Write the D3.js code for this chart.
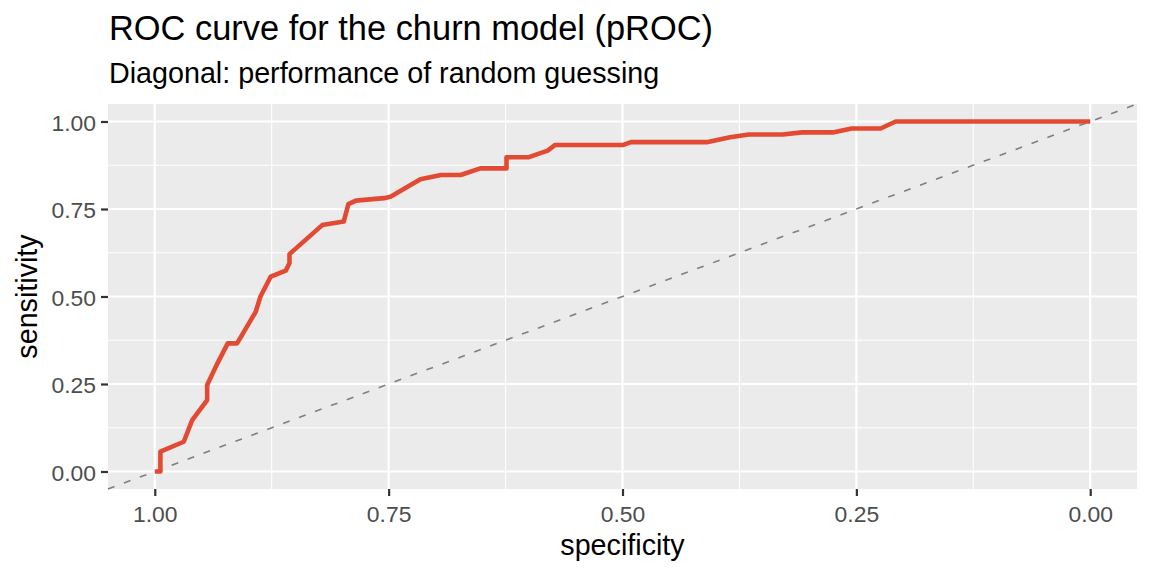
<!DOCTYPE html>
<html>
<head>
<meta charset="utf-8">
<script src="https://cdn.jsdelivr.net/npm/d3@7"></script>
<style>
    body { margin: 0; background: #fff; }
    text { font-family: "Liberation Sans", Arial, sans-serif; }
</style>
</head>
<body>
<svg id="graph" width="1152" height="576"></svg>
<script>

//roc curve points (specificity goes 1 -> 0)
let specificity = [1, 0.994, 0.994, 0.969, 0.960, 0.944, 0.944, 0.933, 0.922, 0.912, 0.892, 0.887, 0.876, 0.860, 0.856, 0.856,
    0.821, 0.798, 0.793, 0.785, 0.755, 0.748, 0.716, 0.694, 0.673, 0.652, 0.624, 0.624, 0.600, 0.580, 0.572,
    0.499, 0.491, 0.410, 0.385, 0.365, 0.329, 0.308, 0.274, 0.255, 0.224, 0.208, 0];
let sensitivity = [0, 0, 0.057, 0.085, 0.147, 0.204, 0.247, 0.309, 0.366, 0.366, 0.457, 0.5, 0.557, 0.574, 0.595, 0.621,
    0.704, 0.714, 0.764, 0.774, 0.781, 0.785, 0.835, 0.847, 0.847, 0.866, 0.866, 0.898, 0.898, 0.917, 0.933,
    0.933, 0.941, 0.941, 0.955, 0.963, 0.963, 0.969, 0.969, 0.98, 0.98, 1, 1];

let majorTicks = [1, 0.75, 0.5, 0.25, 0];
let minorTicks = [0.875, 0.625, 0.375, 0.125];
let tickLabels = ["1.00", "0.75", "0.50", "0.25", "0.00"];

let titleText = "ROC curve for the churn model (pROC)";
let subtitleText = "Diagonal: performance of random guessing";

let panel = { left: 108, right: 1137, top: 104, bottom: 489 };

let x = d3.scaleLinear().domain([1.05, -0.05]).range([panel.left, panel.right]);
let y = d3.scaleLinear().domain([-0.05, 1.05]).range([panel.bottom, panel.top]);

drawPanel();
drawDiagonal();
drawCurve();
drawAxes();
drawTitles();

function drawPanel()
{
    let svg = d3.select("#graph");

    svg.append("rect")
    .attr("x", panel.left)
    .attr("y", panel.top)
    .attr("width", panel.right - panel.left)
    .attr("height", panel.bottom - panel.top)
    .attr("fill", "#EBEBEB");

    //minor grid first so majors sit on top
    svg.selectAll()
    .data(minorTicks)
    .enter()
    .append("line")
    .attr("x1", (d) => x(d))
    .attr("x2", (d) => x(d))
    .attr("y1", panel.top)
    .attr("y2", panel.bottom)
    .attr("stroke", "#fff")
    .attr("stroke-width", 1.1);

    svg.selectAll()
    .data(minorTicks)
    .enter()
    .append("line")
    .attr("x1", panel.left)
    .attr("x2", panel.right)
    .attr("y1", (d) => y(d))
    .attr("y2", (d) => y(d))
    .attr("stroke", "#fff")
    .attr("stroke-width", 1.1);

    svg.selectAll()
    .data(majorTicks)
    .enter()
    .append("line")
    .attr("x1", (d) => x(d))
    .attr("x2", (d) => x(d))
    .attr("y1", panel.top)
    .attr("y2", panel.bottom)
    .attr("stroke", "#fff")
    .attr("stroke-width", 2.2);

    svg.selectAll()
    .data(majorTicks)
    .enter()
    .append("line")
    .attr("x1", panel.left)
    .attr("x2", panel.right)
    .attr("y1", (d) => y(d))
    .attr("y2", (d) => y(d))
    .attr("stroke", "#fff")
    .attr("stroke-width", 2.2);
}

function drawDiagonal()
{
    //abline across the whole panel
    let ends = [1.05, -0.05];

    d3.select("#graph")
    .append("path")
    .attr("d", d3.line().x((d) => x(d)).y((d) => y(1 - d))(ends))
    .attr("fill", "none")
    .attr("stroke", "#7F7F7F")
    .attr("stroke-width", 1.6)
    .attr("stroke-dasharray", "7,10");
}

function drawCurve()
{
    let points = specificity.map((s, i) => [s, sensitivity[i]]);

    let lineGenerator = d3.line()
    .x((d) => x(d[0]))
    .y((d) => y(d[1]));

    d3.select("#graph")
    .append("path")
    .attr("d", lineGenerator(points))
    .attr("fill", "none")
    .attr("stroke", "#E34A33")
    .attr("stroke-width", 4.6)
    .attr("stroke-linejoin", "round");
}

function drawAxes()
{
    let xAxis = d3.axisBottom(x)
    .tickValues(majorTicks)
    .tickFormat((d, i) => tickLabels[i])
    .tickSize(7)
    .tickPadding(4);

    let yAxis = d3.axisLeft(y)
    .tickValues(majorTicks)
    .tickFormat((d, i) => tickLabels[i])
    .tickSize(7)
    .tickPadding(5);

    let gx = d3.select("#graph")
    .append("g")
    .attr("transform", "translate(0," + panel.bottom + ")")
    .call(xAxis);

    let gy = d3.select("#graph")
    .append("g")
    .attr("transform", "translate(" + panel.left + ",0)")
    .call(yAxis);

    [gx, gy].forEach((g) => {
        g.select(".domain").remove();
        g.selectAll(".tick line").attr("stroke", "#333").attr("stroke-width", 2.2);
        g.selectAll(".tick text")
        .attr("fill", "#4D4D4D")
        .style("font-size", "22.9px")
        .style("font-family", "'Liberation Sans', Arial, sans-serif");
    });

    gx.selectAll(".tick text").attr("dy", "0.95em");
    gy.selectAll(".tick text").attr("dy", "0.38em");
}

function drawTitles()
{
    let svg = d3.select("#graph");

    svg.append("text")
    .attr("x", 109)
    .attr("y", 40)
    .style("font-size", "34.4px")
    .text(titleText);

    svg.append("text")
    .attr("x", 109)
    .attr("y", 83)
    .style("font-size", "28.7px")
    .text(subtitleText);

    svg.append("text")
    .attr("x", (panel.left + panel.right) / 2)
    .attr("y", 555)
    .attr("text-anchor", "middle")
    .style("font-size", "28.7px")
    .text("specificity");

    svg.append("text")
    .attr("transform", "translate(37," + ((panel.top + panel.bottom) / 2) + ") rotate(-90)")
    .attr("text-anchor", "middle")
    .style("font-size", "28.7px")
    .text("sensitivity");
}

</script>
</body>
</html>
